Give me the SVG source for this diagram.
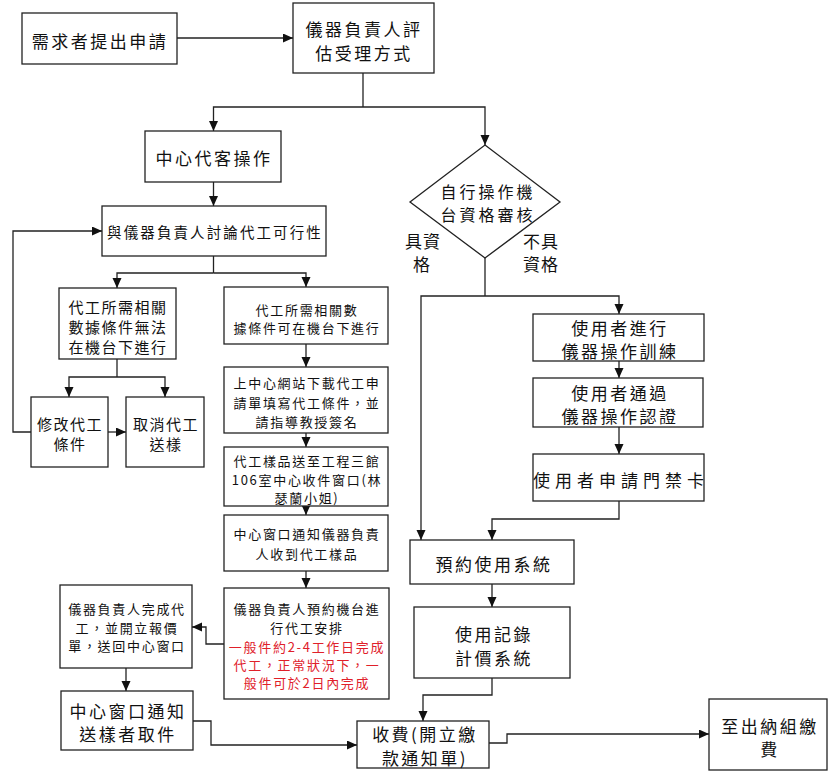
<svg xmlns="http://www.w3.org/2000/svg" width="839" height="782" viewBox="0 0 839 782">
<defs>
<marker id="ah" markerUnits="userSpaceOnUse" markerWidth="11" markerHeight="10" refX="10" refY="4.5" orient="auto">
<path d="M0,0 L10,4.5 L0,9 z" fill="#111"/>
</marker>
<style>
rect, polygon { fill:#fff; stroke:#222; stroke-width:1.3; }
text { font-family:"Noto Sans CJK TC","Noto Sans CJK SC",sans-serif; fill:#111; text-anchor:middle; dominant-baseline:central; }
.t17 { font-size:17px; letter-spacing:2.5px; }
.t16 { font-size:16px; letter-spacing:3px; }
.t15 { font-size:15px; letter-spacing:1.5px; }
.t15w { font-size:14.5px; letter-spacing:2.1px; }
.t13 { font-size:13px; letter-spacing:1.7px; }
.red { fill:#e0202a; }
#connectors path { fill:none; stroke:#222; stroke-width:1.3; }
.arr { marker-end:url(#ah); }
</style>
</defs>
<rect width="839" height="782" style="fill:#fff;stroke:none"/>

<g id="connectors">
<path class="arr" d="M177,38 H293"/>
<path d="M363,73 V107"/>
<path class="arr" d="M363,107 H213.5 V131"/>
<path class="arr" d="M363,107 H485 V145"/>
<path class="arr" d="M213.5,182 V206"/>
<path d="M213.5,256 V273"/>
<path class="arr" d="M213.5,273 H117 V288"/>
<path class="arr" d="M213.5,273 H306 V287"/>
<path d="M117,359 V377"/>
<path class="arr" d="M117,377 H69 V397"/>
<path class="arr" d="M117,377 H165 V397"/>
<path class="arr" d="M108,432 H126"/>
<path class="arr" d="M31,432 H13 V231 H102"/>
<path class="arr" d="M306,344 V367"/>
<path class="arr" d="M306,433 V447"/>
<path class="arr" d="M306,506 V515"/>
<path class="arr" d="M306,571 V588"/>
<path class="arr" d="M224,644 H206 V627 H192"/>
<path class="arr" d="M126,668 V691"/>
<path class="arr" d="M193,721 H211 V745 H357"/>
<path d="M485,258 V296"/>
<path class="arr" d="M485,296 H421 V540"/>
<path class="arr" d="M485,296 H619 V314"/>
<path class="arr" d="M619,361 V378"/>
<path class="arr" d="M619,427 V454"/>
<path class="arr" d="M619,501 V519 H492 V540"/>
<path class="arr" d="M492,584 V607"/>
<path class="arr" d="M492,678 V695 H423 V721"/>
<path class="arr" d="M489,743 H507 V734 H709"/>
</g>

<g id="n_request">
<rect x="22" y="13" width="155" height="51"/>
<text class="t17" x="100" y="40">需求者提出申請</text>
</g>
<g id="n_evaluate">
<rect x="293" y="3" width="141" height="70"/>
<text class="t17" x="364" y="28">儀器負責人評</text>
<text class="t17" x="364" y="52">估受理方式</text>
</g>
<g id="n_center_op">
<rect x="145" y="131" width="136" height="51"/>
<text class="t17" x="214" y="157">中心代客操作</text>
</g>
<g id="n_discuss">
<rect x="102" y="206" width="224" height="50"/>
<text class="t15w" x="215" y="231">與儀器負責人討論代工可行性</text>
</g>
<g id="n_diamond">
<polygon points="485,145 560,202 485,258 410,202"/>
<text class="t16" x="488" y="191">自行操作機</text>
<text class="t16" x="488" y="214">台資格審核</text>
<text class="t17" x="423" y="240" style="letter-spacing:1px">具資</text>
<text class="t17" x="422" y="263" style="letter-spacing:1px">格</text>
<text class="t17" x="541" y="240" style="letter-spacing:1px">不具</text>
<text class="t17" x="541" y="263" style="letter-spacing:1px">資格</text>
</g>
<g id="n_cannot">
<rect x="59" y="288" width="117" height="71"/>
<text class="t15" x="118" y="306">代工所需相關</text>
<text class="t15" x="118" y="326">數據條件無法</text>
<text class="t15" x="118" y="346">在機台下進行</text>
</g>
<g id="n_can">
<rect x="224" y="287" width="164" height="57"/>
<text class="t13" x="307" y="309">代工所需相關數</text>
<text class="t13" x="307" y="327">據條件可在機台下進行</text>
</g>
<g id="n_modify">
<rect x="31" y="397" width="77" height="70"/>
<text class="t15" x="70" y="423">修改代工</text>
<text class="t15" x="70" y="443">條件</text>
</g>
<g id="n_cancel">
<rect x="126" y="397" width="78" height="70"/>
<text class="t15" x="166" y="423">取消代工</text>
<text class="t15" x="166" y="443">送樣</text>
</g>
<g id="n_download">
<rect x="224" y="367" width="164" height="66"/>
<text class="t13" x="307" y="382">上中心網站下載代工申</text>
<text class="t13" x="307" y="402">請單填寫代工條件，並</text>
<text class="t13" x="307" y="421">請指導教授簽名</text>
</g>
<g id="n_send">
<rect x="224" y="447" width="164" height="59"/>
<text class="t13" x="307" y="460">代工樣品送至工程三館</text>
<text class="t13" x="307" y="479">106室中心收件窗口(林</text>
<text class="t13" x="307" y="497">瑟蘭小姐)</text>
</g>
<g id="n_notify_owner">
<rect x="224" y="515" width="164" height="56"/>
<text class="t13" x="307" y="533">中心窗口通知儀器負責</text>
<text class="t13" x="307" y="553">人收到代工樣品</text>
</g>
<g id="n_schedule">
<rect x="224" y="588" width="165" height="111"/>
<text class="t13" x="307" y="608">儀器負責人預約機台進</text>
<text class="t13" x="307" y="627">行代工安排</text>
<text class="t13 red" x="307" y="646">一般件約2-4工作日完成</text>
<text class="t13 red" x="307" y="664">代工，正常狀況下，一</text>
<text class="t13 red" x="307" y="682">般件可於2日內完成</text>
</g>
<g id="n_finish">
<rect x="60" y="585" width="132" height="83"/>
<text class="t13" x="127" y="608">儀器負責人完成代</text>
<text class="t13" x="127" y="627">工，並開立報價</text>
<text class="t13" x="127" y="645">單，送回中心窗口</text>
</g>
<g id="n_pickup">
<rect x="61" y="691" width="132" height="59"/>
<text class="t17" x="128" y="710">中心窗口通知</text>
<text class="t17" x="128" y="733">送樣者取件</text>
</g>
<g id="n_training">
<rect x="533" y="314" width="171" height="47"/>
<text class="t17" x="620" y="327">使用者進行</text>
<text class="t17" x="620" y="350">儀器操作訓練</text>
</g>
<g id="n_cert">
<rect x="533" y="378" width="170" height="49"/>
<text class="t17" x="620" y="392">使用者通過</text>
<text class="t17" x="620" y="415">儀器操作認證</text>
</g>
<g id="n_card">
<rect x="533" y="454" width="171" height="47"/>
<text class="t17" x="621" y="479" style="letter-spacing:5px">使用者申請門禁卡</text>
</g>
<g id="n_booking">
<rect x="410" y="540" width="164" height="44"/>
<text class="t17" x="494" y="563">預約使用系統</text>
</g>
<g id="n_billing">
<rect x="414" y="607" width="156" height="71"/>
<text class="t17" x="494" y="633">使用記錄</text>
<text class="t17" x="494" y="657">計價系統</text>
</g>
<g id="n_charge">
<rect x="357" y="721" width="132" height="47"/>
<text class="t17" x="425" y="733">收費(開立繳</text>
<text class="t17" x="425" y="757">款通知單)</text>
</g>
<g id="n_pay">
<rect x="709" y="699" width="118" height="71"/>
<text class="t17" x="770" y="725">至出納組繳</text>
<text class="t17" x="770" y="748">費</text>
</g>
</svg>
